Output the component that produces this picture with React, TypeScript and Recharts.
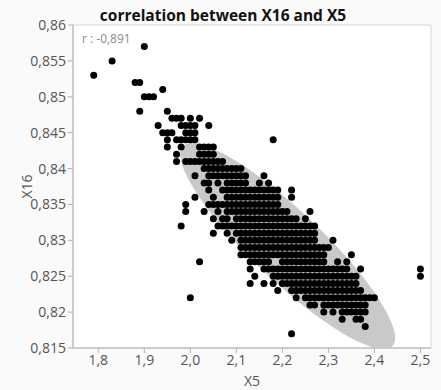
import { ScatterChart, Scatter, XAxis, YAxis, ReferenceArea } from "recharts";

const X_TICKS = [1.8, 1.9, 2.0, 2.1, 2.2, 2.3, 2.4, 2.5];
const Y_TICKS = [0.815, 0.82, 0.825, 0.83, 0.835, 0.84, 0.845, 0.85, 0.855, 0.86];
const X_DOMAIN = [1.745, 2.523];
const Y_DOMAIN = [0.815, 0.86];

// X16 levels (thousandths) and the X5 values seen on each level (hundredths)
const x16Levels = [
  857, 855, 853, 852, 851, 850, 848, 847, 846, 845, 844, 843, 842, 841, 840,
  839, 838, 837, 836, 835, 834, 833, 832, 831, 830, 829, 828, 827, 826, 825,
  824, 823, 822, 821, 820, 819, 818, 817,
];
const x5ByLevel = [
  [190],
  [183],
  [179],
  [188, 189],
  [194],
  [190, 191, 192],
  [189, 195],
  [196, 197, 198, 200, 202],
  [193, 198, 199, 200, 201, 204],
  [194, 195, 196, 199, 200, 201],
  [195, 197, 198, 199, 200, 201, 218],
  [195, 198, 202, 203, 204, 205],
  [197, 202, 203, 204, 205],
  [197, 199, 200, 201, 202, 203, 204, 205, 206, 207],
  [203, 204, 205, 206, 207, 208, 209, 210, 211],
  [201, 204, 205, 206, 207, 208, 209, 210, 211, 212, 216],
  [203, 204, 206, 208, 209, 210, 211, 212, 215, 217],
  [204, 207, 208, 209, 210, 211, 212, 213, 214, 215, 216, 217, 218, 219, 222],
  [201, 205, 208, 209, 210, 211, 212, 213, 214, 215, 216, 217, 218, 219, 222],
  [199, 204, 205, 206, 207, 208, 209, 210, 211, 212, 213, 214, 215, 216, 217, 218, 219],
  [199, 203, 206, 208, 209, 210, 211, 212, 213, 214, 215, 216, 217, 218, 219, 220, 221, 226],
  [205, 207, 208, 210, 211, 212, 213, 214, 215, 216, 217, 218, 219, 220, 221, 222, 223, 225],
  [198, 206, 207, 208, 209, 210, 211, 212, 213, 214, 215, 216, 217, 218, 219, 220, 221, 222, 223, 224, 225, 226, 227],
  [205, 208, 210, 211, 212, 213, 214, 215, 216, 217, 218, 219, 220, 221, 222, 223, 224, 225, 226, 227],
  [209, 211, 212, 213, 214, 215, 216, 217, 218, 219, 220, 221, 222, 223, 224, 225, 226, 227, 231],
  [211, 212, 213, 214, 215, 216, 217, 218, 219, 220, 221, 222, 223, 224, 225, 226, 227, 228, 229, 230],
  [211, 212, 213, 214, 215, 216, 217, 218, 219, 220, 221, 222, 223, 224, 225, 226, 227, 228, 229, 235],
  [202, 213, 214, 215, 216, 217, 220, 221, 222, 223, 224, 225, 226, 227, 228, 229, 232, 234],
  [213, 216, 217, 218, 219, 220, 221, 222, 223, 224, 225, 226, 227, 228, 229, 230, 231, 232, 233, 234, 237, 250],
  [214, 218, 219, 220, 221, 222, 223, 224, 225, 226, 227, 228, 229, 230, 231, 232, 233, 234, 235, 236, 250],
  [213, 216, 218, 220, 221, 222, 223, 224, 225, 226, 227, 228, 229, 230, 231, 232, 233, 234, 235, 236],
  [219, 222, 223, 224, 225, 226, 227, 228, 229, 230, 231, 232, 233, 234, 235, 236, 237],
  [200, 223, 225, 226, 227, 228, 229, 230, 231, 232, 233, 234, 235, 236, 237, 238, 239, 240],
  [226, 227, 229, 230, 231, 232, 233, 234, 235, 236, 237, 238],
  [229, 231, 233, 234, 235, 236, 237, 238],
  [233, 236, 237],
  [238],
  [222],
];

// density ellipse: centre, half spans, correlation
const ELLIPSE_CENTER = [2.2115, 0.8292];
const ELLIPSE_HALF_SPAN = [0.2335, 0.01435];
const R_VALUE = -0.891;

const points = x16Levels.flatMap((lv, i) =>
  x5ByLevel[i].map((h) => ({ x: h / 100, y: lv / 1000 }))
);

const ellipse = Array.from({ length: 90 }, (_, i) => {
  const t = (i / 90) * Math.PI * 2;
  return {
    x: ELLIPSE_CENTER[0] + ELLIPSE_HALF_SPAN[0] * Math.cos(t),
    y:
      ELLIPSE_CENTER[1] +
      ELLIPSE_HALF_SPAN[1] *
        (R_VALUE * Math.cos(t) + Math.sqrt(1 - R_VALUE * R_VALUE) * Math.sin(t)),
  };
});

const FONT = "'Open Sans', 'Noto Sans', sans-serif";
const comma = (v: number, d?: number) =>
  (d === undefined ? String(v) : v.toFixed(d)).replace(".", ",");

const Dot = (p: any) => <circle cx={p.cx} cy={p.cy} r={3.5} fill="#000" />;

const EllipseFill = (p: any) => {
  const pts = (p.points || []) as { x: number; y: number }[];
  if (!pts.length) return <g />;
  const d = pts.map((q, i) => `${i ? "L" : "M"}${q.x},${q.y}`).join("") + "Z";
  return <path d={d} fill="#c9c9c9" stroke="none" />;
};

export default function App() {
  return (
    <div
      style={{
        position: "absolute",
        left: 0,
        top: 0,
        width: 441,
        height: 390,
        background: "#fafafa",
        fontFamily: FONT,
      }}
    >
      <div
        style={{
          position: "absolute",
          top: 4,
          left: 0,
          width: 446,
          textAlign: "center",
          fontSize: 15.5,
          fontWeight: 700,
          color: "#111",
          lineHeight: "22px",
        }}
      >
        correlation between X16 and X5
      </div>
      <ScatterChart
        width={441}
        height={390}
        margin={{ top: 25, right: 10, bottom: 0, left: 0 }}
      >
        <ReferenceArea
          x1={X_DOMAIN[0]}
          x2={X_DOMAIN[1]}
          y1={Y_DOMAIN[0]}
          y2={Y_DOMAIN[1]}
          fill="#fff"
          fillOpacity={1}
          stroke="#d4d4d4"
        />
        <XAxis
          type="number"
          dataKey="x"
          domain={X_DOMAIN}
          ticks={X_TICKS}
          allowDataOverflow
          height={42}
          tickFormatter={(v) => comma(v, 1)}
          tick={{ fontSize: 14, fill: "#555", fontFamily: FONT }}
          stroke="#b0b0b0"
          tickSize={5}
          label={{ value: "X5", position: "insideBottom", offset: 4, fontSize: 14, fill: "#555" }}
        />
        <YAxis
          type="number"
          dataKey="y"
          domain={Y_DOMAIN}
          ticks={Y_TICKS}
          allowDataOverflow
          width={73}
          tickFormatter={(v) => comma(v)}
          tick={{ fontSize: 14, fill: "#555", fontFamily: FONT }}
          stroke="#b0b0b0"
          tickSize={5}
          label={{
            value: "X16",
            angle: -90,
            position: "insideLeft",
            offset: 27,
            fontSize: 14,
            fill: "#555",
            style: { textAnchor: "middle" },
          }}
        />
        <Scatter
          data={ellipse}
          line={EllipseFill}
          lineType="joint"
          shape={() => <g />}
          isAnimationActive={false}
        />
        <Scatter data={points} shape={Dot} isAnimationActive={false} />
      </ScatterChart>
      <div
        style={{
          position: "absolute",
          left: 82,
          top: 30,
          fontSize: 12,
          color: "#8a8a8a",
        }}
      >
        r : -0,891
      </div>
    </div>
  );
}
